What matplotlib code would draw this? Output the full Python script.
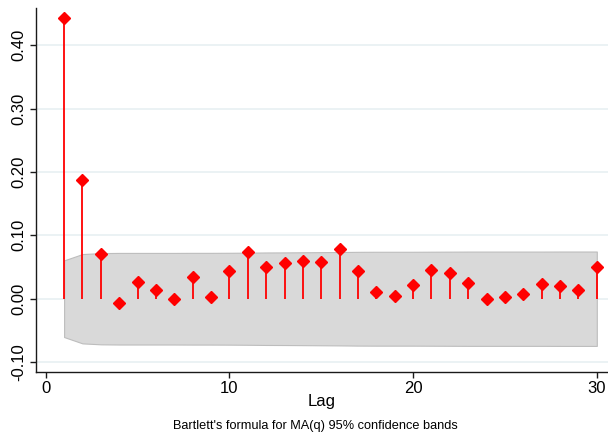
import matplotlib
matplotlib.use("Agg")
import matplotlib.pyplot as plt

plt.rcParams['font.family'] = ['Liberation Sans', 'DejaVu Sans']

lags = list(range(1, 31))
acf = [0.443, 0.187, 0.071, -0.006, 0.027, 0.013, -0.001, 0.034, 0.003, 0.044,
       0.073, 0.050, 0.056, 0.060, 0.058, 0.079, 0.044, 0.011, 0.005, 0.022,
       0.045, 0.040, 0.025, 0.000, 0.003, 0.008, 0.024, 0.020, 0.013, 0.050]
band_upper = [0.0605, 0.0705, 0.0720, 0.0723, 0.0723, 0.0723, 0.0723, 0.0724, 0.0724, 0.0725,
              0.0727, 0.0730, 0.0731, 0.0733, 0.0735, 0.0737, 0.0740, 0.0741, 0.0741, 0.0741,
              0.0742, 0.0743, 0.0744, 0.0744, 0.0744, 0.0744, 0.0744, 0.0745, 0.0745, 0.0745]
band_lower = [-v for v in band_upper]
yticks = [-0.10, 0.00, 0.10, 0.20, 0.30, 0.40]
ytick_labels = ["-0.10", "0.00", "0.10", "0.20", "0.30", "0.40"]
xticks = [0, 10, 20, 30]
xlabel = "Lag"
caption = "Bartlett's formula for MA(q) 95% confidence bands"

fig = plt.figure(figsize=(6.08, 4.41), dpi=100)
fig.patch.set_facecolor('white')
ax = fig.add_axes([0.0592, 0.157, 0.9408, 0.825])
ax.set_facecolor('white')

ax.fill_between(lags, band_lower, band_upper, facecolor='#D9D9D9', edgecolor='#BDBDBD',
                linewidth=0.8, zorder=1)
ax.vlines(lags, 0, acf, colors='#FF0000', linewidth=1.3, zorder=3)
ax.plot(lags, acf, linestyle='none', marker='D', markersize=6.0, color='#FF0000',
        markeredgecolor='#FF0000', zorder=4)

ax.set_xlim(-0.53, 30.61)
ax.set_ylim(-0.1153, 0.459)

ax.set_yticks(yticks)
ax.set_yticklabels(ytick_labels, rotation=90, va='center', fontsize=12)
ax.set_xticks(xticks)
ax.set_xticklabels([str(t) for t in xticks], fontsize=12)
ax.yaxis.grid(True, color='#E6EFF1', linewidth=1.1, zorder=0)
ax.set_axisbelow(True)

for s in ['top', 'right']:
    ax.spines[s].set_visible(False)
for s in ['left', 'bottom']:
    ax.spines[s].set_color('#1a1a1a')
    ax.spines[s].set_linewidth(1.0)
ax.tick_params(axis='both', direction='out', length=4.5, width=1.0, colors='#1a1a1a',
               labelcolor='#000000', pad=2.5)

ax.set_xlabel(xlabel, fontsize=12, labelpad=-1.5)
fig.text(0.519, 1 - 425.7 / 441, caption, ha='center', va='center', fontsize=9.2)

fig.savefig('out.png', dpi=100, facecolor='white')
